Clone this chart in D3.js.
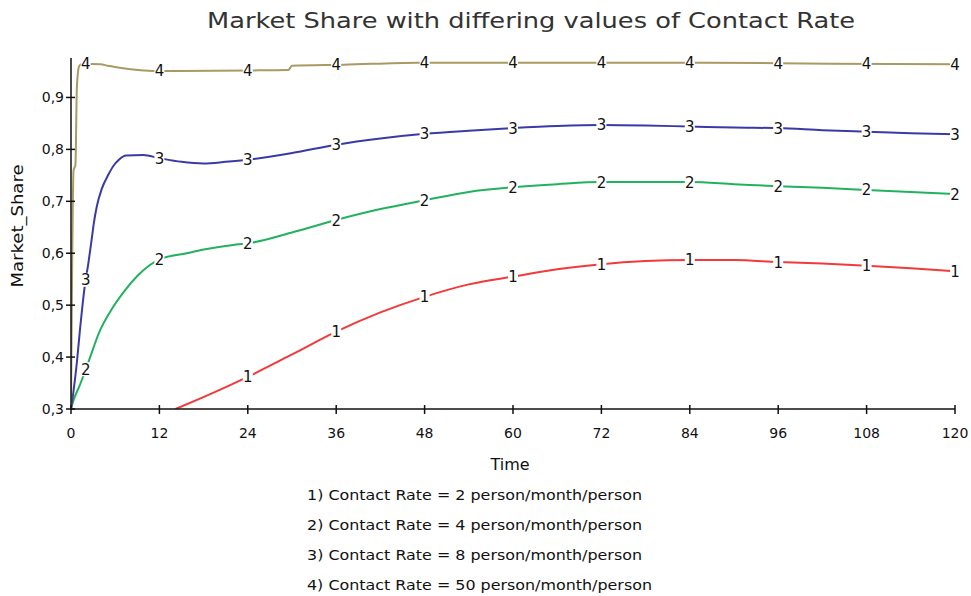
<!DOCTYPE html>
<html>
<head>
<meta charset="utf-8">
<script src="https://cdn.jsdelivr.net/npm/d3@7"></script>
<style>
  html, body { margin: 0; padding: 0; background: #ffffff; }
  svg { display: block; }
</style>
</head>
<body>
<svg id="chart" width="971" height="596"></svg>
<script>
// ---------- data ----------
const chartTitle = "Market Share with differing values of Contact Rate";
const xTitle = "Time";
const yTitle = "Market_Share";
const xTicks = [0, 12, 24, 36, 48, 60, 72, 84, 96, 108, 120];
const yTicks = [0.3, 0.4, 0.5, 0.6, 0.7, 0.8, 0.9];
const labelTimes = [2, 12, 24, 36, 48, 60, 72, 84, 96, 108, 120];

const seriesNames = [
  "1) Contact Rate = 2 person/month/person",
  "2) Contact Rate = 4 person/month/person",
  "3) Contact Rate = 8 person/month/person",
  "4) Contact Rate = 50 person/month/person"
];
const seriesColors = ["#f23a3a", "#22b25e", "#3a3aa6", "#a89a62"];

const s1Time  = [14.2, 17.5, 21.6, 24, 30, 36, 42, 48, 54, 60, 66, 72, 78, 84, 90, 96, 102, 108, 114, 120];
const s1Value = [0.300, 0.320, 0.346, 0.362, 0.405, 0.449, 0.486, 0.516, 0.540, 0.555, 0.569, 0.579, 0.585, 0.587, 0.587, 0.583, 0.580, 0.576, 0.571, 0.565];

const s2Time  = [0, 0.3, 1.2, 2.35, 3.9, 5.3, 7.3, 9, 12, 15.7, 18, 22, 24, 30, 36, 42, 48, 54, 60, 66, 72, 78, 84, 90, 96, 102, 108, 114, 120];
const s2Value = [0.300, 0.315, 0.346, 0.390, 0.450, 0.487, 0.528, 0.556, 0.588, 0.600, 0.607, 0.616, 0.619, 0.640, 0.664, 0.685, 0.702, 0.718, 0.727, 0.733, 0.737, 0.737, 0.737, 0.733, 0.729, 0.726, 0.722, 0.718, 0.714];

const s3Time  = [0, 0.3, 0.8, 1.2, 1.9, 2.35, 2.8, 3.1, 3.5, 4.2, 5.1, 5.7, 6.5, 7.5, 9.8, 12, 15, 18, 21, 24, 30, 36, 42, 48, 54, 60, 66, 72, 78, 84, 90, 96, 102, 108, 114, 120];
const s3Value = [0.300, 0.330, 0.390, 0.450, 0.540, 0.580, 0.626, 0.658, 0.690, 0.725, 0.752, 0.767, 0.780, 0.788, 0.789, 0.783, 0.776, 0.773, 0.776, 0.780, 0.793, 0.809, 0.821, 0.830, 0.836, 0.841, 0.845, 0.847, 0.846, 0.844, 0.842, 0.841, 0.837, 0.834, 0.831, 0.829];

const s4Time  = [0, 0.35, 0.6, 0.8, 1.1, 1.5, 4, 5, 7.3, 10, 12, 24, 29.5, 30, 37, 47, 60, 72, 84, 96, 103, 120];
const s4Value = [0.300, 0.760, 0.770, 0.920, 0.960, 0.965, 0.964, 0.961, 0.956, 0.952, 0.951, 0.952, 0.953, 0.961, 0.963, 0.967, 0.967, 0.967, 0.967, 0.966, 0.965, 0.964];

const seriesTimes = [s1Time, s2Time, s3Time, s4Time];
const seriesValues = [s1Value, s2Value, s3Value, s4Value];

// ---------- layout ----------
const svg = d3.select("#chart");
const x = d3.scaleLinear().domain([0, 120]).range([71, 955]);
const y = d3.scaleLinear().domain([0.3, 0.976]).range([409, 58]);
const fmt = v => d3.format(".1f")(v).replace(".", ",");
const font = "'DejaVu Sans', Verdana, sans-serif";

svg.append("defs").append("clipPath").attr("id", "plotclip")
  .append("rect").attr("x", x(0)).attr("y", y.range()[1] - 10)
  .attr("width", x(120) - x(0) + 2).attr("height", y(0.3) - y.range()[1] + 10);

// title
svg.append("text")
  .attr("x", 531).attr("y", 28)
  .attr("text-anchor", "middle")
  .attr("font-family", font)
  .attr("font-size", 21)
  .attr("textLength", 648)
  .attr("lengthAdjust", "spacingAndGlyphs")
  .attr("fill", "#333333")
  .text(chartTitle);

// lines
const line = d3.line().x(d => x(d[0])).y(d => y(d[1])).curve(d3.curveMonotoneX);
const gLines = svg.append("g").attr("clip-path", "url(#plotclip)");
seriesTimes.forEach((ts, i) => {
  const pts = ts.map((t, k) => [t, seriesValues[i][k]]);
  gLines.append("path")
    .attr("d", line(pts))
    .attr("fill", "none")
    .attr("stroke", seriesColors[i])
    .attr("stroke-width", 2);
});

// axes
const gAxis = svg.append("g").attr("stroke", "#111").attr("stroke-width", 1.5);
gAxis.append("line").attr("x1", x(0)).attr("x2", x(0)).attr("y1", y(0.3)).attr("y2", y.range()[1]);
gAxis.append("line").attr("x1", x(0)).attr("x2", x(120)).attr("y1", y(0.3)).attr("y2", y(0.3));
yTicks.forEach(v => {
  gAxis.append("line").attr("x1", x(0) - 5).attr("x2", x(0) + 4).attr("y1", y(v)).attr("y2", y(v));
});
xTicks.forEach(t => {
  gAxis.append("line").attr("x1", x(t)).attr("x2", x(t)).attr("y1", y(0.3) - 4).attr("y2", y(0.3) + 5);
});

const gTxt = svg.append("g").attr("font-family", font).attr("font-size", 14).attr("fill", "#111");
yTicks.forEach(v => {
  gTxt.append("text").attr("x", x(0) - 7).attr("y", y(v) + 5)
    .attr("text-anchor", "end").text(fmt(v));
});
xTicks.forEach(t => {
  gTxt.append("text").attr("x", x(t)).attr("y", y(0.3) + 29)
    .attr("text-anchor", "middle").text(t);
});

// axis titles
svg.append("text").attr("x", 510).attr("y", 470)
  .attr("text-anchor", "middle").attr("font-family", font)
  .attr("font-size", 16).attr("fill", "#111").text(xTitle);
svg.append("text")
  .attr("transform", "translate(23,226) rotate(-90)")
  .attr("text-anchor", "middle").attr("font-family", font)
  .attr("font-size", 16).attr("textLength", 123).attr("lengthAdjust", "spacingAndGlyphs")
  .attr("fill", "#111").text(yTitle);

// line number labels
const gLab = svg.append("g");
seriesTimes.forEach((ts, i) => {
  const interp = d3.scaleLinear().domain(ts).range(seriesValues[i]);
  labelTimes.forEach(t => {
    if (t < ts[0] || t > ts[ts.length - 1]) return;
    const v = interp(t);
    if (v < 0.3) return;
    const cx = x(t), cy = y(v);
    gLab.append("rect").attr("x", cx - 5).attr("y", cy - 7).attr("width", 10).attr("height", 14).attr("fill", "#fff");
    gLab.append("text").attr("x", cx).attr("y", cy + 5.5)
      .attr("text-anchor", "middle").attr("font-family", font)
      .attr("font-size", 15).attr("fill", "#111").text(String(i + 1));
  });
});

// legend
const legendWidths = [335, 335, 335, 345];
const gLeg = svg.append("g").attr("font-family", font).attr("font-size", 14.5).attr("fill", "#111");
seriesNames.forEach((name, i) => {
  gLeg.append("text").attr("x", 307).attr("y", 500 + i * 30)
    .attr("textLength", legendWidths[i]).attr("lengthAdjust", "spacingAndGlyphs")
    .text(name);
});
</script>
</body>
</html>
